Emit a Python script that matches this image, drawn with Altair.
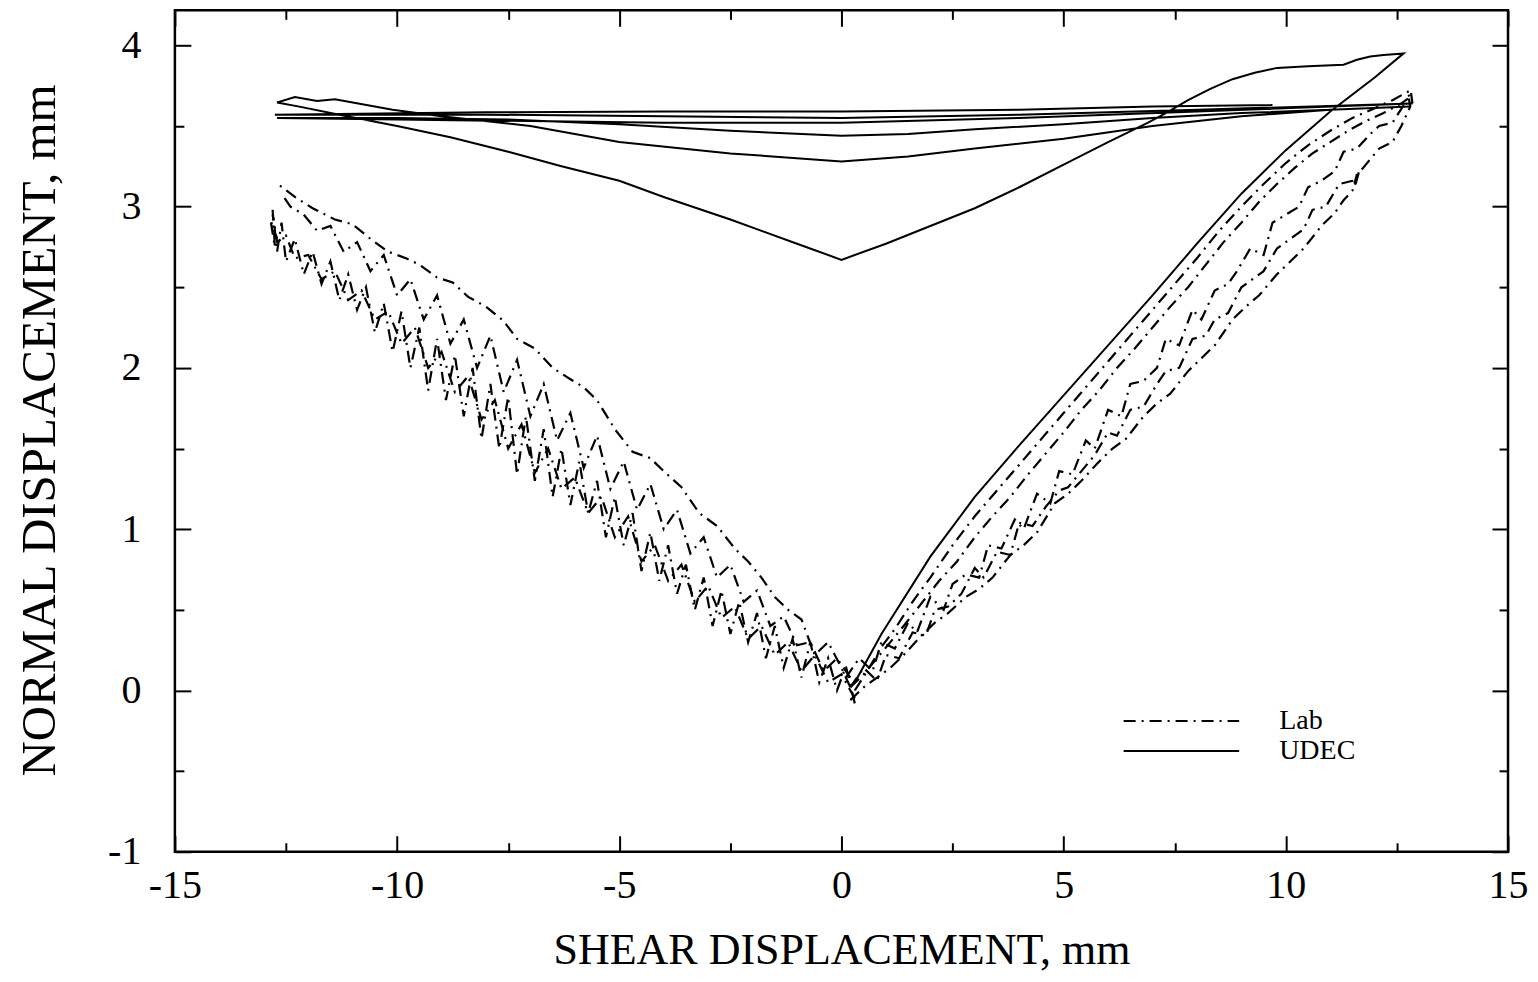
import altair as alt
import pandas as pd

# ---------------- data ----------------
# UDEC simulation (one continuous path, cycles of shearing)
udec_path = [
    (0.3, 0.05), (0.9, 0.35), (2.0, 0.83), (3.0, 1.2), (4.0, 1.52), (5.0, 1.83), (6.0, 2.14),
    (7.0, 2.45), (8.0, 2.77), (9.0, 3.08), (10.0, 3.35), (11.0, 3.59), (12.0, 3.8), (12.65, 3.95),
    (12.2, 3.94), (11.9, 3.93), (11.6, 3.91), (11.3, 3.88), (10.5, 3.87), (9.8, 3.86), (9.3, 3.83),
    (8.8, 3.79), (8.3, 3.73), (7.8, 3.66), (7.3, 3.58), (6.9, 3.52), (6.0, 3.40), (5.0, 3.26),
    (4.0, 3.12), (3.0, 2.99), (2.0, 2.88), (1.0, 2.77), (0.0, 2.67), (-1.0, 2.77), (-2.5, 2.92),
    (-4.0, 3.06), (-5.0, 3.16), (-6.3, 3.25), (-7.5, 3.34), (-8.8, 3.43), (-10.0, 3.5),
    (-11.3, 3.57), (-12.2, 3.62), (-12.7, 3.645),
    (-12.3, 3.68), (-11.8, 3.655), (-11.4, 3.665), (-10.1, 3.6), (-9.0, 3.56), (-7.0, 3.5),
    (-5.0, 3.4), (-2.5, 3.33), (0.0, 3.28), (1.5, 3.31), (3.0, 3.36), (5.0, 3.42), (7.0, 3.5),
    (9.0, 3.56), (11.0, 3.6), (12.8, 3.62),
    (11.0, 3.6), (9.0, 3.58), (7.0, 3.55), (5.0, 3.51), (3.0, 3.48), (1.5, 3.45), (0.0, 3.44),
    (-2.5, 3.47), (-5.0, 3.51), (-7.5, 3.54), (-10.0, 3.55), (-12.7, 3.55),
    (-10.0, 3.54), (-7.0, 3.53), (-4.0, 3.52), (0.0, 3.52), (4.0, 3.55), (8.0, 3.59), (12.85, 3.64),
    (8.0, 3.6), (4.0, 3.57), (0.0, 3.55), (-4.0, 3.56), (-8.0, 3.57), (-12.75, 3.57),
    (-8.0, 3.585), (-4.0, 3.59), (0.0, 3.59), (4.0, 3.6), (7.0, 3.62), (9.7, 3.63),
]

# Laboratory test branches
lab_R1 = [(0.3, 0.0), (0.6, 0.13), (0.9, 0.27), (1.2, 0.38), (1.6, 0.55), (2.0, 0.7), (2.5, 0.9),
          (3.0, 1.08), (3.5, 1.24), (4.0, 1.4), (4.5, 1.56), (5.0, 1.72), (5.5, 1.88), (6.0, 2.04),
          (6.5, 2.2), (7.0, 2.36), (7.5, 2.52), (8.0, 2.68), (8.5, 2.85), (9.0, 3.0), (9.5, 3.14),
          (10.0, 3.27), (10.5, 3.38), (11.0, 3.47), (11.5, 3.55), (12.0, 3.61), (12.4, 3.66), (12.8, 3.72)]
lab_R2 = [(0.2, 0.02), (0.5, 0.1), (0.8, 0.2), (1.1, 0.3), (1.4, 0.4), (1.8, 0.54), (2.2, 0.68),
          (2.6, 0.8), (3.0, 0.95), (3.4, 1.08), (3.8, 1.2), (4.2, 1.34), (4.6, 1.47), (5.0, 1.6),
          (5.4, 1.74), (5.8, 1.86), (6.2, 2.0), (6.6, 2.12), (7.0, 2.25), (7.4, 2.38), (7.8, 2.5),
          (8.2, 2.64), (8.6, 2.78), (9.0, 2.9), (9.4, 3.03), (9.8, 3.14), (10.2, 3.24), (10.6, 3.33),
          (11.0, 3.4), (11.4, 3.47), (11.8, 3.53), (12.2, 3.58), (12.6, 3.64), (12.8, 3.68)]
lab_R3 = [(0.1, 0.08), (0.4, 0.2), (0.7, 0.12), (0.9, 0.3), (1.2, 0.26), (1.5, 0.42), (1.7, 0.36),
          (2.0, 0.58), (2.3, 0.5), (2.5, 0.66), (2.8, 0.72), (3.1, 0.7), (3.3, 0.9), (3.6, 0.88),
          (3.9, 1.06), (4.1, 1.0), (4.4, 1.22), (4.7, 1.16), (4.9, 1.36), (5.2, 1.34), (5.5, 1.55),
          (5.7, 1.5), (6.0, 1.74), (6.3, 1.7), (6.5, 1.9), (6.8, 1.92), (7.1, 2.0), (7.3, 2.18),
          (7.6, 2.14), (7.9, 2.36), (8.1, 2.3), (8.4, 2.48), (8.7, 2.52), (8.9, 2.6), (9.2, 2.74),
          (9.5, 2.7), (9.7, 2.9), (10.0, 2.95), (10.3, 3.0), (10.5, 3.12), (10.8, 3.16), (11.1, 3.22),
          (11.3, 3.34), (11.6, 3.36), (11.9, 3.45), (12.1, 3.5), (12.4, 3.52), (12.7, 3.65)]
lab_R4 = [(0.2, 0.02), (0.5, 0.14), (0.8, 0.06), (1.0, 0.22), (1.3, 0.2), (1.6, 0.36), (1.9, 0.34),
          (2.1, 0.5), (2.4, 0.52), (2.7, 0.6), (3.0, 0.76), (3.2, 0.7), (3.5, 0.86), (3.8, 0.84),
          (4.0, 1.04), (4.3, 1.02), (4.6, 1.14), (4.9, 1.24), (5.1, 1.26), (5.4, 1.36), (5.7, 1.46),
          (6.0, 1.6), (6.2, 1.58), (6.5, 1.74), (6.8, 1.76), (7.1, 1.9), (7.3, 1.98), (7.6, 2.0),
          (7.9, 2.18), (8.2, 2.2), (8.4, 2.3), (8.7, 2.34), (9.0, 2.5), (9.3, 2.56), (9.5, 2.6),
          (9.8, 2.74), (10.1, 2.8), (10.4, 2.86), (10.6, 2.98), (10.9, 3.0), (11.2, 3.14), (11.5, 3.16),
          (11.8, 3.26), (12.1, 3.36), (12.4, 3.4), (12.6, 3.5), (12.8, 3.62), (12.75, 3.7),
          (12.85, 3.64), (12.8, 3.74)]
lab_R5 = [(0.2, -0.06), (0.5, 0.02), (0.8, 0.08), (1.1, 0.14), (1.4, 0.22), (1.8, 0.34), (2.1, 0.42),
          (2.4, 0.48), (2.8, 0.58), (3.1, 0.63), (3.4, 0.7), (3.8, 0.84), (4.1, 0.9), (4.4, 0.98),
          (4.8, 1.16), (5.1, 1.22), (5.4, 1.3), (5.8, 1.42), (6.1, 1.5), (6.4, 1.56), (6.8, 1.7),
          (7.1, 1.78), (7.4, 1.84), (7.8, 1.98), (8.1, 2.06), (8.4, 2.14), (8.8, 2.3), (9.1, 2.38),
          (9.4, 2.45), (9.8, 2.58), (10.1, 2.66), (10.4, 2.74), (10.8, 2.88), (11.1, 2.96),
          (11.3, 3.04), (11.5, 3.1), (11.6, 3.2), (11.55, 3.12), (11.65, 3.22)]
lab_L1 = [(0.2, 0.02), (0.0, 0.14), (-0.3, 0.3), (-0.6, 0.22), (-0.9, 0.44), (-1.2, 0.5), (-1.5, 0.58),
          (-1.8, 0.7), (-2.1, 0.8), (-2.4, 0.88), (-2.8, 1.02), (-3.2, 1.1), (-3.6, 1.26), (-4.0, 1.36),
          (-4.3, 1.44), (-4.7, 1.48), (-5.1, 1.62), (-5.5, 1.8), (-5.8, 1.88), (-6.1, 1.93), (-6.5, 2.0),
          (-6.9, 2.12), (-7.3, 2.18), (-7.6, 2.29), (-8.0, 2.38), (-8.4, 2.44), (-8.75, 2.53),
          (-9.1, 2.56), (-9.5, 2.64), (-9.8, 2.68), (-10.2, 2.72), (-10.6, 2.8), (-11.0, 2.89),
          (-11.4, 2.92), (-11.9, 2.99), (-12.3, 3.06), (-12.68, 3.14)]
lab_L2 = [(0.2, 0.08), (-0.1, 0.2), (-0.4, 0.12), (-0.7, 0.3), (-1.0, 0.28), (-1.3, 0.46), (-1.6, 0.4),
          (-1.9, 0.62), (-2.2, 0.55), (-2.5, 0.78), (-2.8, 0.7), (-3.1, 0.95), (-3.4, 0.85), (-3.7, 1.12),
          (-4.0, 1.0), (-4.3, 1.28), (-4.6, 1.12), (-4.9, 1.42), (-5.2, 1.25), (-5.5, 1.58), (-5.8, 1.38),
          (-6.1, 1.72), (-6.4, 1.55), (-6.7, 1.9), (-7.0, 1.7), (-7.3, 2.05), (-7.6, 1.85), (-7.9, 2.2),
          (-8.2, 2.0), (-8.5, 2.3), (-8.8, 2.15), (-9.1, 2.45), (-9.4, 2.3), (-9.7, 2.55), (-10.0, 2.45),
          (-10.3, 2.7), (-10.6, 2.6), (-10.9, 2.78), (-11.2, 2.72), (-11.5, 2.88), (-11.8, 2.85),
          (-12.1, 2.95), (-12.4, 3.0), (-12.6, 3.08)]
lab_L3 = [(0.3, -0.05), (0.0, 0.1), (-0.3, 0.05), (-0.6, 0.22), (-0.9, 0.12), (-1.2, 0.3), (-1.5, 0.22),
          (-1.8, 0.4), (-2.1, 0.32), (-2.4, 0.52), (-2.7, 0.45), (-3.0, 0.65), (-3.3, 0.55), (-3.6, 0.78),
          (-3.9, 0.68), (-4.2, 0.9), (-4.5, 0.8), (-4.8, 1.08), (-5.1, 0.95), (-5.4, 1.2), (-5.7, 1.1),
          (-6.0, 1.32), (-6.3, 1.25), (-6.6, 1.5), (-6.9, 1.35), (-7.2, 1.65), (-7.5, 1.5), (-7.8, 1.8),
          (-8.1, 1.68), (-8.4, 1.95), (-8.7, 1.85), (-9.0, 2.1), (-9.3, 2.0), (-9.6, 2.25), (-9.9, 2.15),
          (-10.2, 2.35), (-10.5, 2.3), (-10.8, 2.48), (-11.1, 2.42), (-11.4, 2.6), (-11.7, 2.55),
          (-12.0, 2.7), (-12.3, 2.68), (-12.5, 2.82), (-12.7, 2.78), (-12.8, 2.95)]
lab_L4 = [(0.3, -0.08), (0.1, 0.15), (-0.1, 0.0), (-0.3, 0.2), (-0.5, 0.05), (-0.7, 0.3), (-0.9, 0.08),
          (-1.1, 0.32), (-1.3, 0.14), (-1.5, 0.4), (-1.7, 0.2), (-1.9, 0.48), (-2.1, 0.3), (-2.3, 0.55),
          (-2.5, 0.35), (-2.7, 0.62), (-2.9, 0.4), (-3.1, 0.7), (-3.3, 0.5), (-3.5, 0.78), (-3.7, 0.6),
          (-3.9, 0.9), (-4.1, 0.68), (-4.3, 0.98), (-4.5, 0.74), (-4.7, 1.1), (-4.9, 0.9), (-5.1, 1.2),
          (-5.3, 0.95), (-5.5, 1.3), (-5.7, 1.1), (-5.9, 1.42), (-6.1, 1.15), (-6.3, 1.5), (-6.5, 1.2),
          (-6.7, 1.62), (-6.9, 1.3), (-7.1, 1.7), (-7.3, 1.34), (-7.5, 1.82), (-7.7, 1.5), (-7.9, 1.9),
          (-8.1, 1.56), (-8.3, 2.0), (-8.5, 1.7), (-8.7, 2.08), (-8.9, 1.8), (-9.1, 2.18), (-9.3, 1.86),
          (-9.5, 2.25), (-9.7, 2.0), (-9.9, 2.35), (-10.1, 2.1), (-10.3, 2.4), (-10.5, 2.22), (-10.7, 2.5),
          (-10.9, 2.36), (-11.1, 2.58), (-11.3, 2.42), (-11.5, 2.66), (-11.7, 2.52), (-11.9, 2.72),
          (-12.1, 2.58), (-12.3, 2.8), (-12.5, 2.66), (-12.6, 2.9), (-12.7, 2.72), (-12.8, 2.98),
          (-12.75, 2.75), (-12.85, 2.92), (-12.7, 2.8), (-12.8, 2.85)]

lab_branches = {"R1": lab_R1, "R2": lab_R2, "L1": lab_L1, "L2": lab_L2, "R3": lab_R3,
                "R4": lab_R4, "L3": lab_L3, "L4": lab_L4, "R5": lab_R5}

legend_labels = ["Lab", "UDEC"]

# ---------------- tables ----------------
udec_df = pd.DataFrame([{"i": k, "x": x, "y": y} for k, (x, y) in enumerate(udec_path)])
lab_df = pd.DataFrame([{"branch": b, "i": k, "x": x, "y": y}
                       for b, pts in lab_branches.items() for k, (x, y) in enumerate(pts)])

LEG_X1, LEG_X2, LEG_TX = 6.35, 8.95, 9.85
LEG_Y = {"Lab": -0.19, "UDEC": -0.375}
leg_df = pd.DataFrame({"label": legend_labels,
                       "x1": [LEG_X1] * 2, "x2": [LEG_X2] * 2, "tx": [LEG_TX] * 2,
                       "ly": [LEG_Y[l] for l in legend_labels]})

# ---------------- styling ----------------
FONT = "Liberation Serif"
W, H = 1334, 842
XS = alt.Scale(domain=[-15, 15], nice=False, zero=False)
YS = alt.Scale(domain=[-1, 4.217], nice=False, zero=False)
DASHDOT = [12, 6, 2, 6]
MAJ, MIN = 16, 9

x_major = [-15, -10, -5, 0, 5, 10, 15]
x_minor = [-12.5, -7.5, -2.5, 2.5, 7.5, 12.5]
y_major = [-1, 0, 1, 2, 3, 4]
y_minor = [-0.5, 0.5, 1.5, 2.5, 3.5]

label_expr = "datum.value < 0 ? '-' + abs(datum.value) : '' + datum.value"


def tick_axis(orient, values, size, labels=False, **kw):
    return alt.Axis(orient=orient, values=values, tickSize=size, offset=-size, domain=False,
                    grid=False, ticks=True, tickColor="black", tickWidth=2, labels=labels,
                    **kw)


ax_bottom = tick_axis("bottom", x_major, MAJ, labels=True, labelFont=FONT, labelFontSize=40,
                      labelColor="black", labelPadding=14, labelExpr=label_expr,
                      labelFlush=False, labelOverlap=False,
                      title="SHEAR DISPLACEMENT, mm", titleFont=FONT, titleFontSize=44,
                      titleFontWeight="normal", titleColor="black", titleX=W / 2, titleY=115,
                      titleBaseline="middle", titleAlign="center")
ax_left = tick_axis("left", y_major, MAJ, labels=True, labelFont=FONT, labelFontSize=40,
                    labelColor="black", labelPadding=34, labelExpr=label_expr,
                    labelFlush=False, labelOverlap=False, labelBaseline="middle",
                    title="NORMAL DISPLACEMENT, mm", titleFont=FONT, titleFontSize=49,
                    titleFontWeight="normal", titleColor="black", titleX=-151, titleY=H / 2 - 1,
                    titleBaseline="middle", titleAlign="center", titleAngle=270)
ax_bottom_min = tick_axis("bottom", x_minor, MIN, title=None)
ax_left_min = tick_axis("left", y_minor, MIN, title=None)
ax_top = tick_axis("top", x_major, MAJ, title=None)
ax_top_min = tick_axis("top", x_minor, MIN, title=None)
ax_right = tick_axis("right", y_major, MAJ, title=None)
ax_right_min = tick_axis("right", y_minor, MIN, title=None)

udec_line = alt.Chart(udec_df).mark_line(color="black", strokeWidth=2).encode(
    x=alt.X("x:Q", scale=XS, axis=ax_bottom),
    y=alt.Y("y:Q", scale=YS, axis=ax_left),
    order="i:Q",
)
lab_line = alt.Chart(lab_df).mark_line(color="black", strokeWidth=2.2, strokeDash=DASHDOT).encode(
    x=alt.X("x:Q", scale=XS, axis=ax_bottom_min),
    y=alt.Y("y:Q", scale=YS, axis=ax_left_min),
    detail="branch:N",
    order="i:Q",
)
leg_lab = alt.Chart(leg_df).transform_filter(alt.datum.label == "Lab").mark_rule(
    color="black", strokeWidth=2, strokeDash=DASHDOT).encode(
    x=alt.X("x1:Q", scale=XS, axis=ax_top),
    x2="x2:Q",
    y=alt.Y("ly:Q", scale=YS, axis=ax_right),
)
leg_udec = alt.Chart(leg_df).transform_filter(alt.datum.label == "UDEC").mark_rule(
    color="black", strokeWidth=2).encode(
    x=alt.X("x1:Q", scale=XS, axis=ax_top_min),
    x2="x2:Q",
    y=alt.Y("ly:Q", scale=YS, axis=ax_right_min),
)
leg_text = alt.Chart(leg_df).mark_text(align="left", baseline="middle", font=FONT, fontSize=28,
                                       color="black").encode(
    x=alt.X("tx:Q", scale=XS, axis=None),
    y=alt.Y("ly:Q", scale=YS, axis=None),
    text="label:N",
)

chart = alt.layer(udec_line, lab_line, leg_lab, leg_udec, leg_text).resolve_axis(
    x="independent", y="independent"
).properties(
    width=W, height=H,
    autosize=alt.AutoSizeParams(type="none"),
    padding={"left": 167, "top": 2, "right": 22, "bottom": 123},
    background="white",
).configure_view(stroke="black", strokeWidth=2.5)

chart.save("out.html", embed_options={"renderer": "svg", "actions": False})
